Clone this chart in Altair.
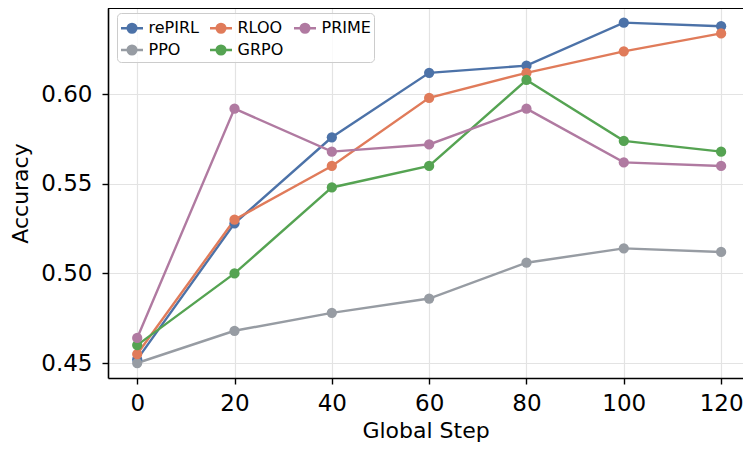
import altair as alt
import pandas as pd

steps = [0, 20, 40, 60, 80, 100, 120]
series_order = ["rePIRL", "PPO", "RLOO", "GRPO", "PRIME"]
colors = {"rePIRL": "#4c72a8", "RLOO": "#e07b5a", "PRIME": "#b07aa1", "PPO": "#979ca3", "GRPO": "#55a352"}

repirl = [0.452, 0.528, 0.576, 0.612, 0.616, 0.640, 0.638]
ppo = [0.450, 0.468, 0.478, 0.486, 0.506, 0.514, 0.512]
rloo = [0.455, 0.530, 0.560, 0.598, 0.612, 0.624, 0.634]
grpo = [0.460, 0.500, 0.548, 0.560, 0.608, 0.574, 0.568]
prime = [0.464, 0.592, 0.568, 0.572, 0.592, 0.562, 0.560]

values = {"rePIRL": repirl, "PPO": ppo, "RLOO": rloo, "GRPO": grpo, "PRIME": prime}
rows = []
for i, name in enumerate(series_order):
    for s, v in zip(steps, values[name]):
        rows.append({"step": s, "acc": v, "method": name, "ord": i})
df = pd.DataFrame(rows)

symbol = "M-1,0L1,0M-0.4,0A0.4,0.4,0,1,1,0.4,0A0.4,0.4,0,1,1,-0.4,0Z"

color = alt.Color(
    "method:N",
    scale=alt.Scale(domain=series_order, range=[colors[k] for k in series_order]),
    legend=alt.Legend(
        title=None,
        orient="none",
        legendX=9,
        legendY=5,
        columns=3,
        symbolType=symbol,
        symbolSize=484,
        symbolStrokeWidth=2.3,
        labelFontSize=16,
        labelFont="DejaVu Sans",
        labelColor="#000000",
        columnPadding=5,
        rowPadding=-4,
        fillColor="rgba(255,255,255,0.8)",
        strokeColor="#cccccc",
        cornerRadius=4,
        padding=2.5,
        labelOffset=4,
    ),
)

x = alt.X(
    "step:Q",
    scale=alt.Scale(domain=[-6, 124.5], nice=False, zero=False),
    axis=alt.Axis(values=steps, title="Global Step", format="d"),
)
y = alt.Y(
    "acc:Q",
    scale=alt.Scale(domain=[0.44163, 0.64818], nice=False, zero=False),
    axis=alt.Axis(values=[0.45, 0.50, 0.55, 0.60], format=".2f", title="Accuracy"),
)

base = alt.Chart(df)
lines = base.mark_line(strokeWidth=2.4).encode(
    x=x, y=y, color=color, detail="method:N", order="ord:Q"
)
points = base.mark_point(filled=True, size=105, opacity=1).encode(
    x=x, y=y, color=color, order="ord:Q"
)
top_frame = base.mark_rule(color="#000000", strokeWidth=1.6).encode(y=alt.value(0))

chart = (
    alt.layer(lines, points, top_frame)
    .properties(
        width=635,
        height=370,
        autosize=alt.AutoSizeParams(type="none"),
        padding={"left": 100, "top": 0, "right": 0, "bottom": 66},
    )
    .configure_view(stroke=None)
    .configure_axis(
        labelFont="DejaVu Sans",
        titleFont="DejaVu Sans",
        labelFontSize=23,
        titleFontSize=22,
        titleFontWeight="normal",
        labelColor="#000000",
        titleColor="#000000",
        domainColor="#000000",
        domainWidth=1.6,
        tickColor="#000000",
        tickWidth=1.4,
        tickSize=6,
        gridColor="#e3e3e3",
        gridWidth=1.2,
    )
    .configure_axisY(titlePadding=8, labelPadding=10)
    .configure_axisX(titlePadding=5, labelPadding=8)
)

chart.save("out.html", embed_options={"renderer": "svg", "actions": False})
